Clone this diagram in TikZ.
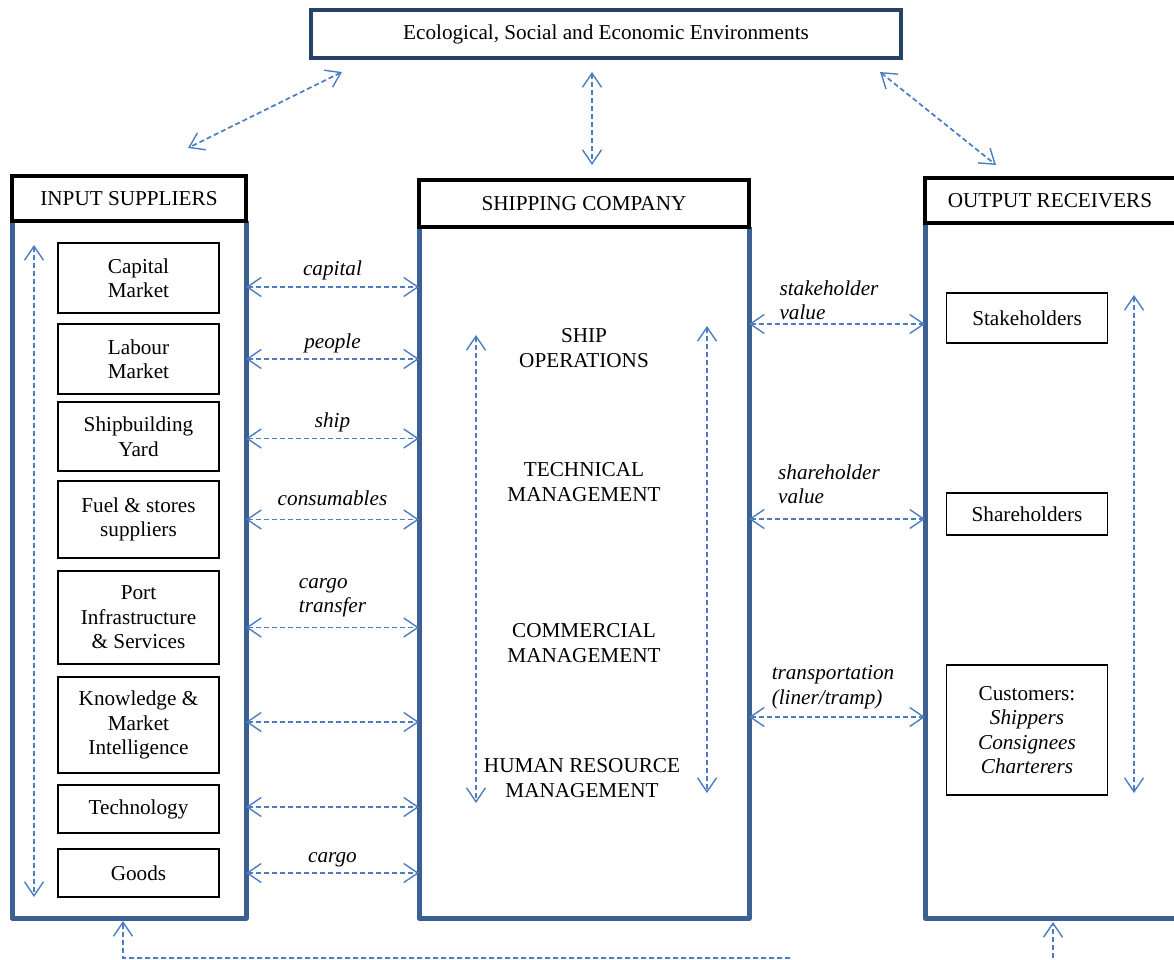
\documentclass[tikz,border=0pt]{standalone}
\usepackage{fontspec}
\setmainfont{Liberation Serif}
\usepackage{tikz}
\usetikzlibrary{positioning,arrows.meta}
\definecolor{flowblue}{RGB}{74,126,193}
\definecolor{colblue}{RGB}{59,96,145}
\definecolor{envblue}{RGB}{38,66,104}
\tikzset{
  every node/.style={font=\fontsize{21.2}{24.5}\selectfont, outer sep=0pt},
  envbox/.style={draw=envblue, line width=3.5pt, fill=white, minimum width=590, minimum height=48},
  headbox/.style={draw=black, line width=3.8pt, fill=white, minimum height=45},
  colline/.style={draw=colblue, line width=5pt, line join=round},
  item/.style={draw, line width=1.2pt, align=center, minimum width=161},
  flow/.style={draw=flowblue, line width=1.7pt, dash pattern=on 5pt off 3pt,
    {Straight Barb[length=14pt,width=19pt,line width=1.4pt]}-{Straight Barb[length=14pt,width=19pt,line width=1.4pt]}},
  upflow/.style={draw=flowblue, line width=1.7pt, dash pattern=on 5pt off 3pt,
    -{Straight Barb[length=14pt,width=19pt,line width=1.4pt]}},
  lbl/.style={font=\fontsize{21.2}{24.5}\selectfont\itshape, align=left, inner sep=2pt},
  txt/.style={align=center}
}

\begin{document}
\begin{tikzpicture}[x=1pt,y=-1pt]
    \useasboundingbox (0,0) rectangle (1174,960);

    % environment box
    \node[envbox] (env) at (606,34) {\raisebox{-2pt}{Ecological, Social and Economic Environments}};

    % the three columns
    \draw[colline] (12,221) -- (12,918) -- (246,918) -- (246,221);
    \draw[colline] (419,227) -- (419,918) -- (749,918) -- (749,227);
    \draw[colline] (925,223) -- (925,918) -- (1190,918);
    \node[headbox, minimum width=234] (inhead) at (129,198.5) {INPUT SUPPLIERS};
    \node[headbox, minimum width=330, minimum height=47] (cohead) at (584,203.5) {SHIPPING COMPANY};
    \node[headbox, minimum width=270] (outhead) at (1060,200.5) {\hspace*{-20pt}OUTPUT RECEIVERS};
    \coordinate (inE) at (246,0);
    \coordinate (coW) at (419,0);
    \coordinate (coE) at (749,0);
    \coordinate (outW) at (925,0);

    % links to the environment
    \coordinate (envL) at (342,72);
    \coordinate (inT) at (188,148);
    \coordinate (envM) at (592,72);
    \coordinate (coT) at (592,165);
    \coordinate (envR) at (880,72);
    \coordinate (outT) at (996,165);
    \draw[flow] (envL) -- (inT);
    \draw[flow] (envM) -- (coT);
    \draw[flow] (envR) -- (outT);

    % input suppliers
    \node[item, minimum height=70] (capital) at (138.5,278) {Capital\\Market};
    \node[item, minimum height=70] (labour) at (138.5,359) {Labour\\Market};
    \node[item, minimum height=69] (yard) at (138.5,436.5) {Shipbuilding\\Yard};
    \node[item, minimum height=77] (fuel) at (138.5,519.5) {Fuel \& stores\\suppliers};
    \node[item, minimum height=93] (port) at (138.5,617.5) {Port\\Infrastructure\\\& Services};
    \node[item, minimum height=96] (know) at (138.5,725) {Knowledge \&\\Market\\Intelligence};
    \node[item, minimum height=48] (tech) at (138.5,809) {Technology};
    \node[item, minimum height=48] (goods) at (138.5,873) {Goods};
    \coordinate (inTop) at (34,245);
    \coordinate (inBot) at (34,897);
    \draw[flow] (inTop) -- (inBot);

    \draw[flow] ([yshift=-9pt]capital.east -| inE) -- ([yshift=-9pt]capital.east -| coW)
      node[lbl, midway, above=5pt] {capital};
    \draw[flow] (labour.east -| inE) -- (labour.east -| coW)
      node[lbl, midway, above=4pt] {people};
    \draw[flow] ([yshift=-2pt]yard.east -| inE) -- ([yshift=-2pt]yard.east -| coW)
      node[lbl, midway, above=4pt] {ship};
    \draw[flow] (fuel.east -| inE) -- (fuel.east -| coW)
      node[lbl, midway, above=12pt] {consumables};
    \draw[flow] ([yshift=-10pt]port.east -| inE) -- ([yshift=-10pt]port.east -| coW)
      node[lbl, midway, above=8pt] {cargo\\transfer};
    \draw[flow] ([yshift=3pt]know.east -| inE) -- ([yshift=3pt]know.east -| coW);
    \draw[flow] ([yshift=2pt]tech.east -| inE) -- ([yshift=2pt]tech.east -| coW);
    \draw[flow] (goods.east -| inE) -- (goods.east -| coW)
      node[lbl, midway, above=4pt] {cargo};

    % shipping company
    \node[txt] (shipops) at (584,348) {SHIP\\OPERATIONS};
    \node[txt] (techman) at (584,482) {TECHNICAL\\MANAGEMENT};
    \node[txt] (comman) at (584,643) {COMMERCIAL\\MANAGEMENT};
    \node[txt] (hrman) at (582,778) {HUMAN RESOURCE\\MANAGEMENT};
    \coordinate (coLtop) at (476,335);
    \coordinate (coLbot) at (476,803);
    \coordinate (coRtop) at (707,326);
    \coordinate (coRbot) at (707,793);
    \draw[flow] (coLtop) -- (coLbot);
    \draw[flow] (coRtop) -- (coRbot);

    % output receivers
    \node[item, minimum height=50] (stake) at (1027,318) {Stakeholders};
    \node[item, minimum height=42] (share) at (1027,514) {Shareholders};
    \node[item, minimum height=130] (cust) at (1027,730) {Customers:\\\textit{Shippers}\\\textit{Consignees}\\\textit{Charterers}};
    \coordinate (outTop) at (1134,295);
    \coordinate (outBot) at (1134,793);
    \draw[flow] (outTop) -- (outBot);

    \draw[flow] ([yshift=-6pt]stake.west -| coE) -- ([yshift=-6pt]stake.west -| outW)
      node[lbl, midway, above=2pt, xshift=-8pt] {stakeholder\\value};
    \draw[flow] ([yshift=-5pt]share.west -| coE) -- ([yshift=-5pt]share.west -| outW)
      node[lbl, midway, above=13pt, xshift=-8pt] {shareholder\\value};
    \draw[flow] ([yshift=13pt]cust.west -| coE) -- ([yshift=13pt]cust.west -| outW)
      node[lbl, midway, above=6pt, xshift=-4pt] {transportation\\(liner/tramp)};

    % feedback at the bottom
    \coordinate (fbEnd) at (790,958);
    \coordinate (fbCorner) at (123,958);
    \coordinate (outIn) at (1053,966);
    \draw[upflow] (fbEnd) -- (fbCorner) -- (fbCorner |- 0,921);
    \draw[upflow] (outIn) -- (outIn |- 0,922);
\end{tikzpicture}
\end{document}
